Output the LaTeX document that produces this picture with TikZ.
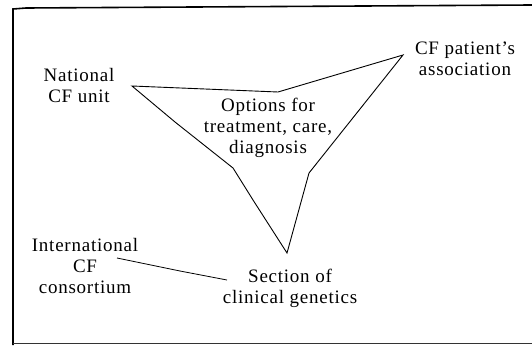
\documentclass[tikz,border=0pt]{standalone}
\usepackage{fontspec}
\setmainfont{Liberation Serif}[LetterSpace=4]
\begin{document}
\begin{tikzpicture}[x=1pt,y=-1pt,
  label/.style={align=center,inner sep=0pt,font=\fontsize{19}{21}\selectfont},
  edge/.style={line width=0.9pt,line join=miter},
  frame/.style={line width=1.6pt}]
\useasboundingbox (0,0) rectangle (532,345);

% outer frame (open on the right)
\draw[frame] (13,345) -- (13,9) -- (26,8) -- (532,5);
\draw[line width=1.2pt,black!80] (13,343.5) -- (532,343.5);

% labels
\node[label] (options) at (268,128) {Options for\\treatment, care,\\diagnosis};
\node[label] (national) at (79,86) {National\\CF unit};
\node[label] (patients) at (465,59) {CF patient's\\association};
\node[label] (intl) at (85,266) {International\\CF\\consortium};
\node[label] (genetics) at (290,288) {Section of\\clinical genetics};

% three-pointed outline around the central options
\coordinate (vN) at (132,86);
\coordinate (vP) at (403,55);
\coordinate (vG) at (287,253);
\draw[edge] (vN) -- (278,92) -- (vP) -- (309,173) -- (vG)
  -- (253,200) -- (233,168) -- (175,122) -- cycle;

% link between the consortium and the genetics section
\coordinate (iEnd) at (117,258);
\coordinate (gEnd) at (227,280);
\draw[line width=0.8pt] (iEnd) -- (180,271) -- (gEnd);
\end{tikzpicture}
\end{document}
